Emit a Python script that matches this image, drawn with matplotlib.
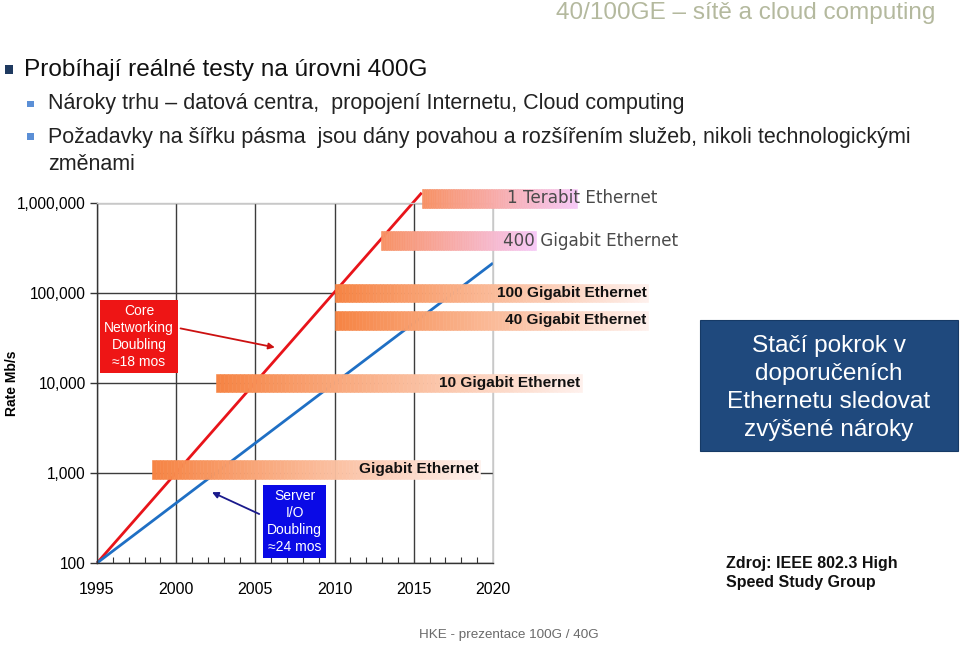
import numpy as np
import matplotlib
matplotlib.use("Agg")
import matplotlib.pyplot as plt
from matplotlib.patches import Rectangle
from matplotlib.ticker import NullLocator, FixedLocator

plt.rcParams['font.family'] = ['Liberation Sans', 'DejaVu Sans']

# ---------------- data ----------------
year_ticks = [1995, 2000, 2005, 2010, 2015, 2020]
rate_ticks = [100, 1000, 10000, 100000, 1000000]
rate_tick_labels = ["100", "1,000", "10,000", "100,000", "1,000,000"]

core_years = [1995, 2015.5]
core_rates = [100, 1.3e6]
server_years = [1995, 2020]
server_rates = [100, 2.15e5]

bar_names = ["Gigabit Ethernet", "10 Gigabit Ethernet", "40 Gigabit Ethernet",
             "100 Gigabit Ethernet", "400 Gigabit Ethernet", "1 Terabit Ethernet"]
bar_start = [1998.5, 2002.5, 2010.0, 2010.0, 2012.9, 2015.5]
bar_end = [2019.2, 2025.6, 2029.8, 2029.8, 2022.7, 2025.3]
bar_rate = [1100, 10000, 50000, 100000, 380000, 1130000]

# ---------------- figure ----------------
fig = plt.figure(figsize=(9.6, 6.45), dpi=100)
W, H = 960, 645

def fx(px):
    return px / W

def fy(py):
    return 1 - py / H

# slide header
fig.text(fx(935), fy(13), "40/100GE – sítě a cloud computing", ha='right', va='center',
         fontsize=17.5, color='#b4b99e')

fig.patches.append(Rectangle((fx(5), fy(74)), 8 / W, 9 / H, transform=fig.transFigure,
                             fc='#1f3a60', ec='none'))
fig.text(fx(24), fy(70), "Probíhají reálné testy na úrovni 400G", ha='left', va='center',
         fontsize=17.6, color='#111111')
for yy in (104, 137):
    fig.patches.append(Rectangle((fx(27), fy(yy + 3)), 6.5 / W, 6.5 / H,
                                 transform=fig.transFigure, fc='#5b8fd6', ec='none'))
fig.text(fx(48), fy(103), "Nároky trhu – datová centra,  propojení Internetu, Cloud computing",
         ha='left', va='center', fontsize=15.5, color='#222222')
fig.text(fx(48), fy(137), "Požadavky na šířku pásma  jsou dány povahou a rozšířením služeb, nikoli technologickými",
         ha='left', va='center', fontsize=15.5, color='#222222')
fig.text(fx(48), fy(164), "změnami", ha='left', va='center', fontsize=15.5, color='#222222')

# ---------------- chart ----------------
ax = fig.add_axes([fx(97), fy(563), (493 - 97) / W, (563 - 203) / H])
ax.set_yscale('log')
ax.set_xlim(1995, 2020)
ax.set_ylim(100, 1e6)

ax.yaxis.set_major_locator(FixedLocator(rate_ticks))
ax.set_yticklabels(rate_tick_labels)
ax.yaxis.set_minor_locator(NullLocator())
ax.set_xticks(year_ticks)
ax.xaxis.set_minor_locator(FixedLocator(np.arange(1995, 2021, 1)))
ax.tick_params(axis='y', which='major', direction='out', length=5, width=1,
               color='#333333', labelsize=11.2, pad=3)
ax.tick_params(axis='x', which='major', direction='in', length=0, labelsize=11.5, pad=14)
ax.tick_params(axis='x', which='minor', direction='in', length=4, width=0.8, color='#333333')

ax.grid(True, which='major', color='#3c3c3c', lw=1.0, zorder=0)
ax.set_axisbelow(True)
for s in ('left', 'bottom'):
    ax.spines[s].set_color('#333333')
    ax.spines[s].set_linewidth(1.0)
for s in ('top', 'right'):
    ax.spines[s].set_color('#c8c8c8')
    ax.spines[s].set_linewidth(1.0)
ax.set_ylabel("Rate Mb/s", fontsize=10, fontweight='bold')
ax.yaxis.set_label_coords((19 - 97) / 396, 0.5)

# trend lines
ax.plot(core_years, core_rates, color='#e8141a', lw=2.0, clip_on=False, zorder=2,
        solid_capstyle='butt')
ax.plot(server_years, server_rates, color='#1f6fc4', lw=2.0, clip_on=False, zorder=2,
        solid_capstyle='butt')

# gradient bars
def grad_bar(x0, x1, yc, c0, c1, n=90):
    hf = 10 ** 0.105
    y0, y1 = yc / hf, yc * hf
    xs = np.linspace(x0, x1, n + 1)
    c0 = np.array(c0) / 255.0
    c1 = np.array(c1) / 255.0
    for i in range(n):
        t = i / (n - 1)
        col = c0 * (1 - t) + c1 * t
        ax.add_patch(Rectangle((xs[i], y0), xs[i + 1] - xs[i], y1 - y0, fc=col, ec=col,
                               lw=0.4, clip_on=False, zorder=3))

label_x = [2019.1, 2025.5, 2029.7, 2029.7, 2020.6, 2020.9]
for name, x0, x1, r, lx in zip(bar_names, bar_start, bar_end, bar_rate, label_x):
    light = name.startswith("400") or name.startswith("1 T")
    if light:
        grad_bar(x0, x1, r, (247, 145, 100), (246, 200, 246))
        ax.text(lx, r, name, ha='left', va='center', fontsize=12.1,
                family='DejaVu Sans', color='#4a4a4a', zorder=5, clip_on=False)
    else:
        grad_bar(x0, x1, r, (246, 132, 68), (254, 240, 236))
        ax.text(lx, r, name, ha='right', va='center', fontsize=11.1,
                fontweight='bold', color='#111111', zorder=5, clip_on=False)

# callouts
ax.text(1997.65, 32900, "Core\nNetworking\nDoubling\n≈18 mos", ha='center', va='center',
        fontsize=10.0, color='white', linespacing=1.25, zorder=6,
        bbox=dict(boxstyle='square,pad=0.3', fc='#ee1515', ec='none'))
ax.annotate("", xy=(2006.4, 24500), xytext=(2000.1, 41000),
            arrowprops=dict(arrowstyle='-|>', color='#cc1111', lw=1.3, mutation_scale=9),
            zorder=6)
ax.text(2007.47, 290, "Server\nI/O\nDoubling\n≈24 mos", ha='center', va='center',
        fontsize=10.0, color='white', linespacing=1.25, zorder=6,
        bbox=dict(boxstyle='square,pad=0.3', fc='#0a0ae6', ec='none'))
ax.annotate("", xy=(2002.1, 630), xytext=(2005.4, 340),
            arrowprops=dict(arrowstyle='-|>', color='#1a1a8c', lw=1.3, mutation_scale=9),
            zorder=6)

# right info box
fig.patches.append(Rectangle((fx(700), fy(451)), 258 / W, 131 / H, transform=fig.transFigure,
                             fc='#1f497d', ec='#163a66', lw=0.8))
fig.text(fx(829), fy(388), "Stačí pokrok v\ndoporučeních\nEthernetu sledovat\nzvýšené nároky",
         ha='center', va='center', fontsize=17.6, color='white', linespacing=1.36)

fig.text(fx(726), fy(573), "Zdroj: IEEE 802.3 High\nSpeed Study Group", ha='left', va='center',
         fontsize=11.5, fontweight='bold', color='#111111', linespacing=1.4)

fig.text(fx(509), fy(635), "HKE - prezentace 100G / 40G", ha='center', va='center',
         fontsize=9.7, color='#6a6a6a')

fig.savefig("out.png", dpi=100)
